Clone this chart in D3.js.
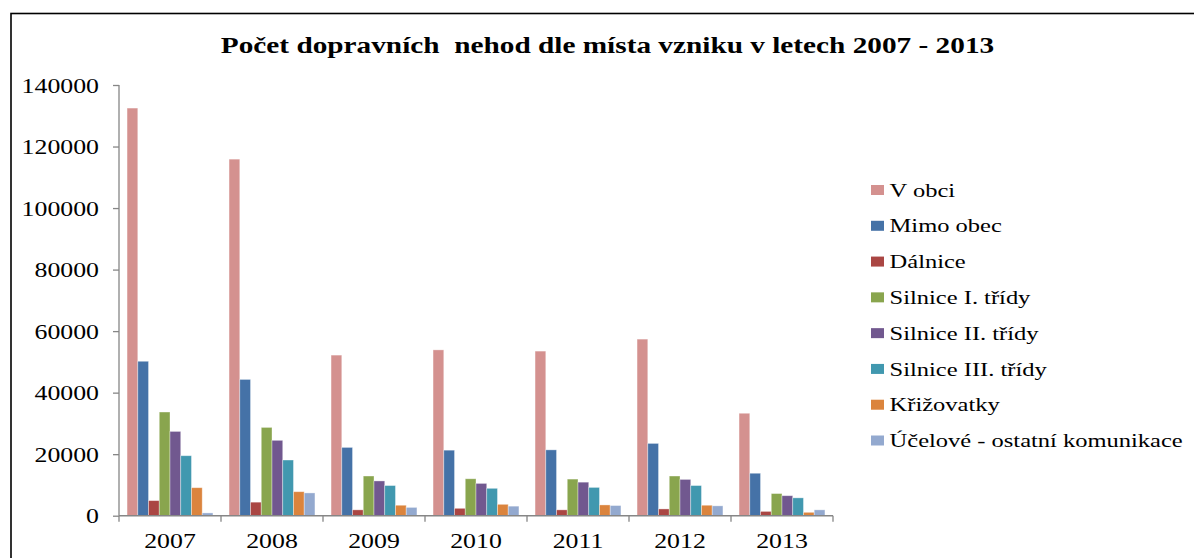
<!DOCTYPE html>
<html>
<head>
<meta charset="utf-8">
<script src="https://cdn.jsdelivr.net/npm/d3@7"></script>
<style>
  html, body { margin: 0; padding: 0; background: #fff; }
  svg { display: block; }
  text { font-family: "Liberation Serif", "Times New Roman", serif; fill: #000; }
</style>
</head>
<body>
<svg id="chart" width="1194" height="558"></svg>
<script>
// Počet dopravních nehod podle místa vzniku, 2007–2013
const years = ["2007", "2008", "2009", "2010", "2011", "2012", "2013"];
const seriesNames = [
  "V obci", "Mimo obec", "Dálnice", "Silnice I. třídy",
  "Silnice II. třídy", "Silnice III. třídy", "Křižovatky",
  "Účelové - ostatní komunikace"
];
const vObci      = [132500, 115900, 52200, 53900, 53500, 57400, 33300];
const mimoObec   = [50200, 44300, 22200, 21300, 21400, 23500, 13800];
const dalnice    = [4900, 4400, 1900, 2400, 1900, 2200, 1400];
const silniceI   = [33700, 28700, 12900, 12000, 11900, 12900, 7200];
const silniceII  = [27400, 24500, 11300, 10500, 10900, 11800, 6500];
const silniceIII = [19500, 18100, 9800, 8900, 9200, 9800, 5800];
const krizovatky = [9100, 7800, 3400, 3700, 3500, 3400, 1100];
const ucelove    = [900, 7400, 2700, 3100, 3300, 3200, 1900];
const yTicks = [0, 20000, 40000, 60000, 80000, 100000, 120000, 140000];
const seriesColors = ["#D4918F", "#4572A7", "#AA4643", "#89A54E",
                      "#71588F", "#4198AF", "#DB843D", "#93A9CF"];

const seriesValues = [vObci, mimoObec, dalnice, silniceI, silniceII,
                      silniceIII, krizovatky, ucelove];
const table = years.map((y, i) => ({
  year: y,
  values: seriesNames.map((n, s) => ({ name: n, s, value: seriesValues[s][i] }))
}));

const svg = d3.select("#chart");
const SX = 1.29;       // horizontal stretch of the lettering
const SX_TITLE = 1.22;

// outer frame (open to the right and bottom)
svg.append("rect")
  .attr("x", 11).attr("y", 13.5)
  .attr("width", 1400).attr("height", 800)
  .attr("fill", "none").attr("stroke", "#000").attr("stroke-width", 1.6);

// title
svg.append("text")
  .attr("transform", `translate(607.5,53) scale(${SX_TITLE},1)`)
  .attr("text-anchor", "middle")
  .style("white-space", "pre")
  .attr("font-size", 24).attr("font-weight", "bold")
  .text("Počet dopravních  nehod dle místa vzniku v letech 2007 - 2013");

const plot = { left: 119, right: 833, top: 85, bottom: 515.7 };

const x0 = d3.scaleBand().domain(years).range([plot.left, plot.right]).padding(0);
const x1 = d3.scaleBand().domain(d3.range(seriesNames.length))
  .range([0, x0.bandwidth()]).paddingInner(0).paddingOuter(0.75);
const y = d3.scaleLinear().domain([0, 140000]).range([plot.bottom, plot.top]);

// bars
const groups = svg.append("g").selectAll("g").data(table).join("g")
  .attr("transform", d => `translate(${x0(d.year)},0)`);
groups.selectAll("rect").data(d => d.values).join("rect")
  .attr("x", d => x1(d.s))
  .attr("y", d => y(d.value))
  .attr("width", x1.bandwidth())
  .attr("height", d => y(0) - y(d.value))
  .attr("fill", d => seriesColors[d.s])
  .attr("stroke", "rgba(255,255,255,0.45)")
  .attr("stroke-width", 0.8);

const axisColor = "#868686";

// y axis
const yAxis = svg.append("g").attr("transform", `translate(${plot.left},0)`)
  .call(d3.axisLeft(y).tickValues(yTicks).tickSize(6).tickFormat(d3.format("d")));
yAxis.select(".domain").attr("stroke", axisColor).attr("stroke-width", 1.3)
  .attr("d", `M0,${plot.top}V${plot.bottom}`);
yAxis.selectAll(".tick line").attr("stroke", axisColor).attr("stroke-width", 1.3);
yAxis.selectAll(".tick text")
  .attr("x", null).attr("dy", null)
  .attr("font-family", "Liberation Serif").attr("font-size", 20)
  .attr("text-anchor", "end")
  .attr("transform", `translate(-20,7) scale(${SX},1)`);

// x axis: tick marks at category boundaries, labels centred in each category
const xAxis = svg.append("g").attr("transform", `translate(0,${plot.bottom})`);
xAxis.append("line")
  .attr("x1", plot.left).attr("x2", plot.right)
  .attr("stroke", axisColor).attr("stroke-width", 1.6);
const boundaries = years.map(d => x0(d)).concat([x0(years[years.length - 1]) + x0.bandwidth()]);
xAxis.selectAll(".bnd").data(boundaries).join("line")
  .attr("class", "bnd")
  .attr("x1", d => d).attr("x2", d => d)
  .attr("y1", 0).attr("y2", 6)
  .attr("stroke", axisColor).attr("stroke-width", 1.3);
xAxis.selectAll(".lbl").data(years).join("text")
  .attr("class", "lbl")
  .attr("transform", d => `translate(${x0(d) + x0.bandwidth() / 2},32.5) scale(${SX},1)`)
  .attr("text-anchor", "middle")
  .attr("font-size", 20)
  .text(d => d);

// legend
const legend = svg.append("g");
const rowY = d3.scalePoint().domain(seriesNames).range([190, 440.5]);
const items = legend.selectAll("g").data(seriesNames).join("g")
  .attr("transform", d => `translate(871,${rowY(d)})`);
items.append("rect")
  .attr("x", 0).attr("y", -5).attr("width", 13).attr("height", 10)
  .attr("fill", (d, i) => seriesColors[i]);
items.append("text")
  .attr("transform", `translate(18.6,6.7) scale(${SX},1)`)
  .attr("font-size", 19)
  .text(d => d);
</script>
</body>
</html>
